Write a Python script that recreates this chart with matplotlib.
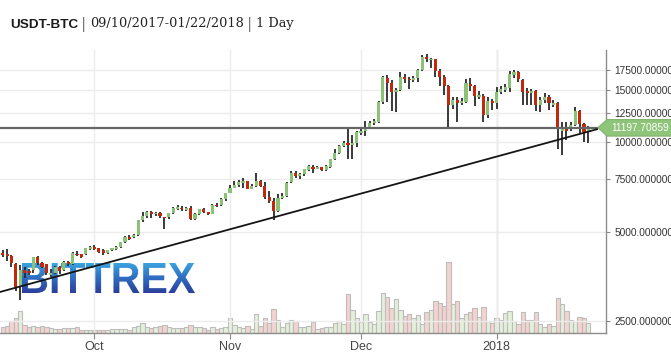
import numpy as np
import matplotlib
matplotlib.use("Agg")
import matplotlib.pyplot as plt
import matplotlib.dates as mdates
from matplotlib.textpath import TextPath
from matplotlib.font_manager import FontProperties
from matplotlib.patches import PathPatch, Polygon
from matplotlib.path import Path
from matplotlib.ticker import FixedLocator, FuncFormatter, NullLocator
from matplotlib.colors import LinearSegmentedColormap

# ---------------- data ----------------
start_date = "2017-09-10"
end_date = "2018-01-22"

opens = [
    4230, 4200, 4140, 3880, 3260, 3700, 3690, 3710, 4110, 3910,
    3880, 3580, 3640, 3800, 3710, 3950, 3880, 4210, 4190, 4200,
    4370, 4440, 4390, 4330, 4230, 4330, 4360, 4440, 4620, 4790,
    4810, 4870, 5470, 5630, 5820, 5720, 5760, 5600, 5600, 5760,
    5950, 6020, 5930, 6000, 5530, 5740, 5940, 5800, 5740, 6160,
    6150, 6450, 6760, 7000, 7180, 7300, 7420, 6960, 7110, 7420,
    7120, 6550, 6360, 5860, 6470, 6590, 7320, 7900, 7700, 7810,
    8060, 8250, 8150, 8250, 8050, 8220, 8750, 9220, 9710, 9960,
    9760, 9960, 10700, 10930, 11220, 11580, 11690, 13650, 16490, 15850,
    14800, 14990, 16540, 16370, 16160, 16490, 17500, 19330, 18850, 19060,
    17410, 16620, 15400, 13340, 13870, 13590, 13650, 15690, 15460, 14170,
    14330, 12350, 13800, 13520, 14800, 14990, 15200, 16900, 17180, 16200,
    14870, 14600, 14910, 13340, 13870, 14240, 13340, 13590, 10930, 11070,
    11070, 11430, 12730, 11520, 10930]

highs = [
    4340, 4360, 4170, 3910, 3860, 3800, 3740, 4120, 4140, 3960,
    3900, 3750, 3830, 3830, 3980, 3990, 4260, 4290, 4210, 4400,
    4480, 4490, 4420, 4360, 4350, 4420, 4460, 4630, 4840, 4880,
    4900, 5480, 5800, 5860, 5870, 5800, 5800, 5620, 5780, 6050,
    6140, 6090, 6060, 6080, 5770, 5980, 6020, 5830, 6200, 6250,
    6470, 6750, 7200, 7380, 7480, 7600, 7430, 7220, 7900, 7450,
    7320, 6870, 6500, 6710, 6750, 7340, 8000, 8000, 7860, 8110,
    8350, 8370, 8300, 8280, 8350, 8800, 9500, 9800, 10100, 11220,
    10570, 10900, 11100, 11810, 11750, 11950, 13800, 16700, 16840, 16200,
    15200, 17200, 16970, 16540, 16700, 17700, 19660, 19770, 19200, 19100,
    17600, 16840, 15580, 14240, 14170, 14100, 16300, 16400, 15600, 14900,
    14500, 14200, 14000, 15300, 15400, 15700, 17400, 17450, 17300, 16300,
    15200, 15100, 15000, 14200, 14600, 14418, 13900, 13650, 11720, 11720,
    11720, 13100, 12800, 11600, 11340]

lows = [
    4100, 3990, 3810, 3150, 2940, 3500, 3560, 3620, 3850, 3770,
    3560, 3520, 3600, 3610, 3680, 3840, 3860, 4130, 4060, 4180,
    4340, 4340, 4250, 4180, 4200, 4310, 4340, 4420, 4590, 4680,
    4770, 4840, 5370, 5570, 5550, 5660, 5570, 5100, 5520, 5720,
    5920, 5850, 5880, 5470, 5480, 5700, 5760, 5700, 5710, 6030,
    6090, 6360, 6720, 6990, 7080, 7030, 6960, 6940, 7060, 7060,
    6450, 6260, 5470, 5840, 6420, 6560, 7280, 7550, 7530, 7720,
    7980, 7900, 8100, 8000, 8000, 8200, 8700, 9150, 9650, 8750,
    8750, 9650, 10600, 10520, 11100, 11450, 11600, 13400, 13690, 12750,
    12680, 14900, 15780, 15080, 15900, 16000, 17400, 18580, 17820, 16620,
    15470, 14410, 11140, 12900, 11720, 13300, 13500, 14900, 13240, 14000,
    11720, 12050, 12800, 12950, 14500, 14700, 14800, 16500, 16000, 13340,
    13340, 13340, 12700, 12600, 13600, 12840, 13150, 9460, 9060, 10150,
    10900, 11350, 10770, 10040, 9920]

closes = [
    4160, 4140, 3910, 3250, 3710, 3640, 3620, 4100, 3910, 3810,
    3640, 3640, 3790, 3680, 3950, 3900, 4240, 4170, 4120, 4390,
    4440, 4360, 4280, 4230, 4330, 4390, 4440, 4620, 4810, 4720,
    4870, 5470, 5630, 5820, 5750, 5790, 5630, 5540, 5760, 6020,
    6030, 5950, 6000, 5530, 5750, 5940, 5800, 5730, 6150, 6090,
    6450, 6720, 7010, 7180, 7360, 7400, 6960, 7100, 7420, 7110,
    6550, 6360, 5860, 6470, 6590, 7310, 7880, 7690, 7790, 8100,
    8310, 8150, 8250, 8050, 8300, 8750, 9220, 9710, 9960, 9760,
    9960, 10850, 10930, 11220, 11600, 11790, 13650, 16570, 15850, 14800,
    14990, 16620, 16290, 16160, 16490, 17500, 19420, 19030, 19060, 17410,
    16620, 15470, 13340, 13870, 13590, 13750, 15850, 15460, 14330, 14400,
    12350, 13800, 13520, 14790, 15140, 15320, 17000, 17180, 16290, 14800,
    14600, 14900, 13340, 13870, 14240, 13590, 13590, 11140, 11140, 10930,
    11430, 12730, 11520, 10850, 11220]

# relative traded volume (arbitrary units)
volume = [
    6, 7, 12, 15, 22, 8, 6, 7, 6, 7, 6, 5, 4, 4, 5, 5, 5, 6, 3, 3,
    3, 3, 3, 3, 3, 4, 4, 4, 4, 3, 6, 7, 10, 6, 5, 6, 7, 8, 6, 5,
    5, 5, 6, 8, 6, 6, 5, 3, 6, 4, 5, 6, 15, 8, 6, 5, 7,
    4, 19, 7, 15, 10, 24, 13, 6, 10, 13, 12, 6, 6, 7, 11, 4, 5, 6,
    6, 10, 12, 9, 39, 23, 15, 11, 19, 11, 9, 22, 40, 36, 25, 34, 23,
    17, 19, 15, 18, 9, 21, 23, 32, 30, 27, 71, 29, 32, 15, 19, 21, 25,
    16, 26, 12, 10, 15, 13, 20, 22, 12, 9, 21, 13, 13, 21, 9, 6, 9, 7,
    35, 29, 22, 13, 12, 16, 15, 10]

y_ticks = [2500, 5000, 7500, 10000, 12500, 15000, 17500]
x_tick_dates = ["2017-10-01", "2017-11-01", "2017-12-01", "2018-01-01"]
x_tick_labels = ["Oct", "Nov", "Dec", "2018"]

last_price = 11197.70859
trend_dates = ["2017-09-09T00:00", "2018-01-24T05:00"]
trend_prices = [3120, 11080]

title_pair = "USDT-BTC"
title_range = "09/10/2017-01/22/2018"
title_interval = "1 Day"

# ---------------- setup ----------------
W, H = 671, 352
fig = plt.figure(figsize=(W / 100, H / 100), dpi=100)
fig.patch.set_facecolor("white")

ax_left, ax_right, ax_top, ax_bottom = 0, 606, 50, 333  # pixel box
pos = [ax_left / W, (H - ax_bottom) / H, (ax_right - ax_left) / W, (ax_bottom - ax_top) / H]

ax2 = fig.add_axes(pos)             # volume (behind)
ax = fig.add_axes(pos, sharex=ax2)  # prices (front)
ax2.set_zorder(0)
ax.set_zorder(2)
ax.patch.set_visible(False)

dates = np.arange(np.datetime64(start_date), np.datetime64(end_date) + np.timedelta64(1, "D"))
x = mdates.date2num(dates)
o = np.array(opens, float); h = np.array(highs, float)
l = np.array(lows, float); c = np.array(closes, float)
v = np.array(volume, float)
assert len(x) == len(o) == len(h) == len(l) == len(c) == len(v)

up = c >= o
GREEN = "#8cc278"
RED = "#c1290e"

# volume bars
vcol = np.where(up, "#e4efda", "#f2d3cf")
ax2.bar(x, v, width=1.0, color=vcol, edgecolor="#bdbdbd", linewidth=0.8, zorder=2)
ax2.set_ylim(0, 283)
ax2.set_yticks([])
for s in ax2.spines.values():
    s.set_visible(False)
ax2.tick_params(axis="x", which="both", bottom=False, labelbottom=False)

# candles
ax.vlines(x, l, h, color="#2a2a2a", linewidth=1.3, zorder=3)
body_lo = np.minimum(o, c)
body_h = np.abs(c - o)
ax.bar(x, body_h, bottom=body_lo, width=0.72,
       color=np.where(up, GREEN, RED), linewidth=0, zorder=4)

ax.set_yscale("log")
x0 = x[0] - 0.62
x1 = x[0] + 138.05
ax.set_xlim(x0, x1)
ax.set_ylim(2278, 20436)

# trend line and last price line
td = mdates.date2num(np.array(trend_dates, dtype="datetime64[m]"))
ax.plot(td, trend_prices, color="#151515", linewidth=1.3, zorder=6, solid_capstyle="butt")
ax.hlines(last_price, x0, td[1], color="#666666", linewidth=1.6, zorder=5)

# axes styling
ax.yaxis.tick_right()
ax.yaxis.set_major_locator(FixedLocator(y_ticks))
ax.yaxis.set_minor_locator(NullLocator())
ax.yaxis.set_major_formatter(FuncFormatter(lambda val, p: "%.6f" % val))
ax.set_xticks(mdates.date2num(np.array(x_tick_dates, dtype="datetime64[D]")))
ax.set_xticklabels(x_tick_labels)
ax.tick_params(axis="y", which="major", length=3, color="#888888", pad=3,
               labelsize=7.3, labelcolor="#333333", right=True, left=False)
ax.tick_params(axis="x", which="major", length=4, color="#888888", pad=2,
               labelsize=9, labelcolor="#444444")
for lab in ax.get_xticklabels() + ax.get_yticklabels():
    lab.set_fontfamily("Liberation Sans")
for side in ("top", "left"):
    ax.spines[side].set_visible(False)
for side in ("right", "bottom"):
    ax.spines[side].set_color("#8c8c8c")
    ax.spines[side].set_linewidth(1.0)
ax.grid(True, axis="y", color="#ececec", linewidth=1.0)
ax.grid(True, axis="x", color="#ececec", linewidth=1.0)
ax.set_axisbelow(True)
ax.axvline(mdates.date2num(np.datetime64("2018-01-01")), color="#cfcfcf", linewidth=1.0, zorder=0.5)

# watermark with blue gradient
wx0, wx1, wy_top, wy_bot = 22, 195, 263, 293
wax = fig.add_axes([wx0 / W, (H - wy_bot) / H, (wx1 - wx0) / W, (wy_bot - wy_top) / H])
wax.set_zorder(1)
wax.axis("off")
wax.patch.set_visible(False)
tp = TextPath((0, 0), "BITTREX", size=40, prop=FontProperties(family="Liberation Sans", weight="bold"))
ext = tp.get_extents()
verts = tp.vertices.copy()
verts[:, 0] = (verts[:, 0] - ext.x0) / ext.width
verts[:, 1] = (verts[:, 1] - ext.y0) / ext.height
npath = Path(verts, tp.codes)
cmap = LinearSegmentedColormap.from_list("bx", ["#2b3f9c", "#2f6cc0", "#3aa3df"])
grad = np.linspace(0, 1, 64).reshape(-1, 1)
im = wax.imshow(grad, cmap=cmap, extent=(0, 1, 0, 1), origin="lower", aspect="auto")
wax.set_xlim(0, 1); wax.set_ylim(0, 1)
clip = PathPatch(npath, transform=wax.transAxes, facecolor="none", edgecolor="none")
wax.add_patch(clip)
im.set_clip_path(clip)

# last price tag
fig.canvas.draw()
yl = ax.transData.transform((x0, last_price))[1]  # display px from bottom
tag = [(598, yl), (607, yl + 8), (W + 2, yl + 8), (W + 2, yl - 8.5), (607, yl - 8.5)]
poly = Polygon([(px / W, py / H) for px, py in tag], closed=True, transform=fig.transFigure,
               facecolor="#8fc47b", edgecolor="#7fb46b", linewidth=0.8, zorder=10)
fig.add_artist(poly)
fig.text(611 / W, (yl - 0.5) / H, "%.5f" % last_price, color="white", fontsize=7.3,
         family="Liberation Sans", va="center", ha="left", zorder=11)

# title
renderer = fig.canvas.get_renderer()
base_y = (H - 27.5) / H
pieces = [
    (title_pair, dict(fontsize=9.7, fontweight="bold", family="Liberation Sans", color="#1b1b1b"), 3),
    ("|", dict(fontsize=11, family="DejaVu Serif", color="#777777"), 4),
    (title_range, dict(fontsize=9.3, family="DejaVu Serif", color="#222222"), 3),
    ("|", dict(fontsize=11, family="DejaVu Serif", color="#777777"), 4),
    (title_interval, dict(fontsize=9.3, family="DejaVu Serif", color="#222222"), 0),
]
cx = 10
for txt, props, gap in pieces:
    t = fig.text(cx / W, base_y, txt, va="baseline", ha="left", **props)
    bb = t.get_window_extent(renderer)
    cx = bb.x1 + gap

fig.savefig("out.png", dpi=100, facecolor="white")
